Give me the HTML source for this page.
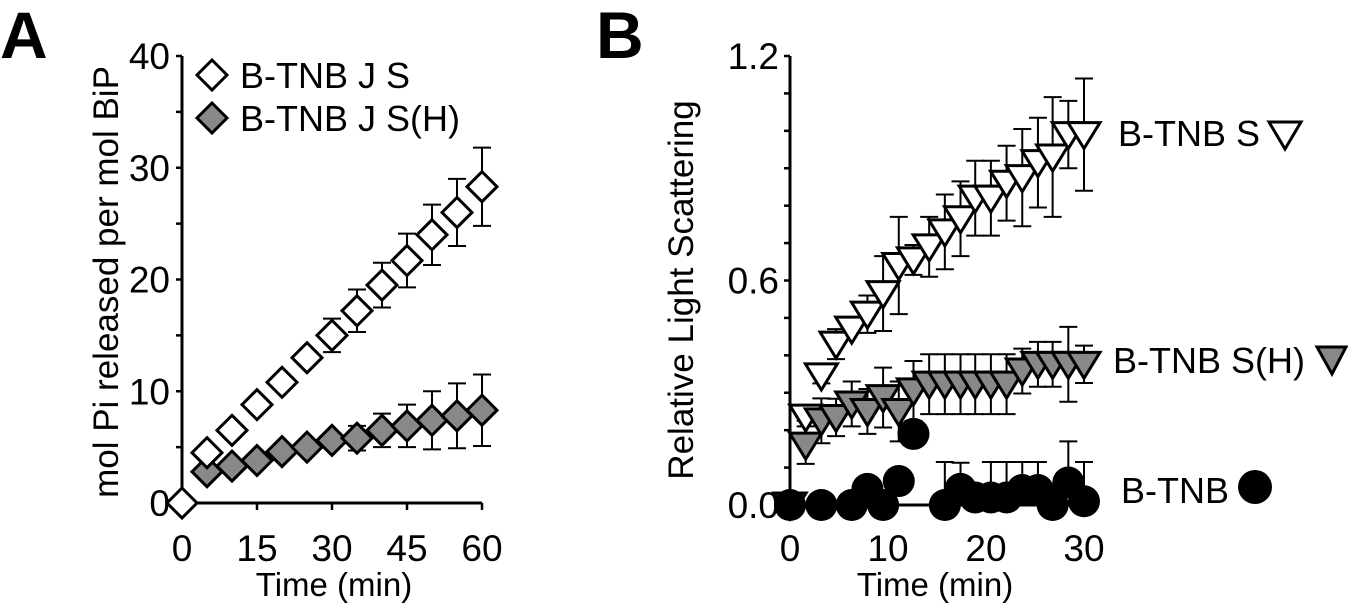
<!DOCTYPE html>
<html><head><meta charset="utf-8">
<style>
html,body{margin:0;padding:0;background:#fff;}
svg{display:block;font-family:"Liberation Sans",Arial,sans-serif;}
</style></head>
<body>
<svg id="fig" width="1348" height="614" viewBox="0 0 1348 614" xmlns="http://www.w3.org/2000/svg">
<text x="0" y="58" font-size="66" font-weight="bold">A</text>
<text x="596" y="58" font-size="66" font-weight="bold">B</text>
<text transform="translate(118,282) rotate(-90)" text-anchor="middle" font-size="35">mol Pi released per mol BiP</text>
<text transform="translate(693,290) rotate(-90)" text-anchor="middle" font-size="35">Relative Light Scattering</text>
<text x="334" y="596" text-anchor="middle" font-size="33">Time (min)</text>
<text x="935" y="596" text-anchor="middle" font-size="33">Time (min)</text>
<g id="gA"></g>
<g id="gB"></g>
<g>
<polygon points="212,60 227,75 212,90 197,75" fill="#fff" stroke="#000" stroke-width="3"/>
<text x="240" y="88" font-size="36">B-TNB J S</text>
<polygon points="212,103 227,118 212,133 197,118" fill="#888" stroke="#000" stroke-width="3"/>
<text x="240" y="131" font-size="36">B-TNB J S(H)</text>
</g>
<g>
<text x="1118" y="146" font-size="36">B-TNB S</text>
<polygon points="1269,122 1301,122 1285,149" fill="#fff" stroke="#000" stroke-width="3"/>
<text x="1113" y="373" font-size="36">B-TNB S(H)</text>
<polygon points="1317,347 1346,347 1332,374" fill="#888" stroke="#000" stroke-width="3"/>
<text x="1121" y="503" font-size="36">B-TNB</text>
<circle cx="1255" cy="487" r="17" fill="#000"/>
</g>
</svg>
<script>
// Panel A data
const timeA = [0,5,10,15,20,25,30,35,40,45,50,55,60];
const sA = [0,4.5,6.5,8.8,10.8,13,15,17.2,19.5,21.7,24,26,28.3];
const sAerr = [0,0,0,0,0,0,1.5,1.9,2,2.4,2.7,3,3.5];
const shTimeA = [5,10,15,20,25,30,35,40,45,50,55,60];
const shA = [2.8,3.3,3.8,4.6,5,5.6,5.8,6.5,6.9,7.4,7.8,8.3];
const shAerr = [0,0,0,0,0,0,1.1,1.5,1.9,2.6,2.9,3.2];
const xTicksA = [0,15,30,45,60];
const yTicksA = [0,10,20,30,40];
// Panel B data
const timeB = [0,1.6,3.2,4.7,6.3,7.9,9.5,11.1,12.6,14.2,15.8,17.4,18.9,20.5,22.1,23.7,25.3,26.8,28.4,30];
const sB = [0,0.235,0.345,0.43,0.47,0.51,0.565,0.64,0.655,0.69,0.73,0.765,0.82,0.82,0.86,0.875,0.915,0.93,0.99,0.99];
const sBerr = [0,0.01,0.02,0.04,0.01,0.05,0.1,0.13,0.04,0.08,0.1,0.1,0.1,0.1,0.1,0.13,0.12,0.16,0.09,0.15];
const shB = [0,0.16,0.225,0.234,0.27,0.25,0.287,0.25,0.305,0.323,0.323,0.323,0.323,0.323,0.323,0.358,0.376,0.376,0.376,0.376];
const shBerr = [0,0.05,0.06,0.05,0.06,0.06,0.08,0.08,0.08,0.08,0.08,0.08,0.08,0.08,0.08,0.06,0.06,0.06,0.1,0.05];
const cB = [0,null,0,null,0,0.043,0,0.064,0.19,null,0,0.043,0.02,0.02,0.02,0.04,0.04,0,0.06,0.01];
const cBerr = [0,0,0,0,0,0,0,0,0,0,0.115,0.07,0,0.095,0.095,0.075,0.075,0,0.11,0.105];
const xTicksB = [0,10,20,30];
const yTicksB = [0,0.6,1.2];

const NS = "http://www.w3.org/2000/svg";
function mk(parent, tag, attrs){const e=document.createElementNS(NS,tag);for(const k in attrs)e.setAttribute(k,attrs[k]);parent.appendChild(e);return e;}

const xA = t => 182 + t*(482-182)/60;
const yA = v => 503 - v*(503-56)/40;
const xB = t => 790 + t*(1084-790)/30;
const yB = v => 505 - v*(505-56)/1.2;

const gA = document.getElementById('gA');
const gB = document.getElementById('gB');

function errBar(g, x, y0, y1, name){
  const e = mk(g,'path',{d:`M${x},${y0}V${y1}M${x-9},${y0}h18M${x-9},${y1}h18`,stroke:'#000','stroke-width':2,fill:'none'});
  
  
}

let ax = mk(gA,'path',{d:`M182,${yA(40)}V503H482`,stroke:'#000','stroke-width':3,fill:'none'});


for(let v=0; v<=40; v+=5){
  const t = mk(gA,'line',{x1:176,x2:182,y1:yA(v),y2:yA(v),stroke:'#000','stroke-width':2.5});
  
  
}
yTicksA.forEach(v=>{
  const t = mk(gA,'text',{x:170,y:yA(v)+13,'text-anchor':'end','font-size':37});
  t.textContent = v;
  
  
});
xTicksA.forEach(v=>{
  const l = mk(gA,'line',{x1:xA(v),x2:xA(v),y1:503,y2:510,stroke:'#000','stroke-width':2.5});
  
  
  const t = mk(gA,'text',{x:xA(v),y:561,'text-anchor':'middle','font-size':37});
  t.textContent = v;
  
  
});
function diamond(g, x, y, fill, name){
  const d = mk(g,'polygon',{points:`${x},${y-15} ${x+15},${y} ${x},${y+15} ${x-15},${y}`,fill:fill,stroke:'#000','stroke-width':3});
  
  
}
timeA.forEach((t,i)=>{ if(sAerr[i]>0) errBar(gA, xA(t), yA(sA[i]-sAerr[i]), yA(sA[i]+sAerr[i]), 'error-bar-s'); });
shTimeA.forEach((t,i)=>{ if(shAerr[i]>0) errBar(gA, xA(t), yA(shA[i]-shAerr[i]), yA(shA[i]+shAerr[i]), 'error-bar-sh'); });
shTimeA.forEach((t,i)=> diamond(gA, xA(t), yA(shA[i]), '#888', 'point-sh'));
timeA.forEach((t,i)=> diamond(gA, xA(t), yA(sA[i]), '#fff', 'point-s'));

let bx = mk(gB,'path',{d:`M790,${yB(1.2)}V505`,stroke:'#000','stroke-width':3,fill:'none'});


let bxx = mk(gB,'path',{d:`M790,505H1084`,stroke:'#000','stroke-width':3,fill:'none'});


for(let k=0; k<=12; k++){
  const t = mk(gB,'line',{x1:784,x2:790,y1:yB(k/10),y2:yB(k/10),stroke:'#000','stroke-width':2.5});
  
  
}
yTicksB.forEach(v=>{
  const t = mk(gB,'text',{x:779,y:yB(v)+13,'text-anchor':'end','font-size':37});
  t.textContent = v.toFixed(1);
  
  
});
xTicksB.forEach(v=>{
  const t = mk(gB,'text',{x:xB(v),y:561,'text-anchor':'middle','font-size':37});
  t.textContent = v;
  
  
});
function tri(g, x, y, fill, name){
  const p = mk(g,'polygon',{points:`${x-16},${y-12} ${x+16},${y-12} ${x},${y+14}`,fill:fill,stroke:'#000','stroke-width':3});
  
  
}
timeB.forEach((t,i)=>{ if(sBerr[i]>0) errBar(gB, xB(t), yB(sB[i]-sBerr[i]), yB(sB[i]+sBerr[i]), 'error-bar-s'); });
timeB.forEach((t,i)=>{ if(shBerr[i]>0) errBar(gB, xB(t), yB(shB[i]-shBerr[i]), yB(shB[i]+shBerr[i]), 'error-bar-sh'); });
timeB.forEach((t,i)=>{ if(cB[i]!==null && cBerr[i]>0) errBar(gB, xB(t), yB(cB[i]), yB(cB[i]+cBerr[i]), 'error-bar-btnb'); });
timeB.forEach((t,i)=> tri(gB, xB(t), yB(sB[i]), '#fff', 'point-s'));
timeB.forEach((t,i)=> tri(gB, xB(t), yB(shB[i]), '#888', 'point-sh'));
timeB.forEach((t,i)=>{
  if(cB[i]===null) return;
  const c = mk(gB,'circle',{cx:xB(t),cy:yB(cB[i]),r:16,fill:'#000'});
  
  
});
</script>
</body></html>
